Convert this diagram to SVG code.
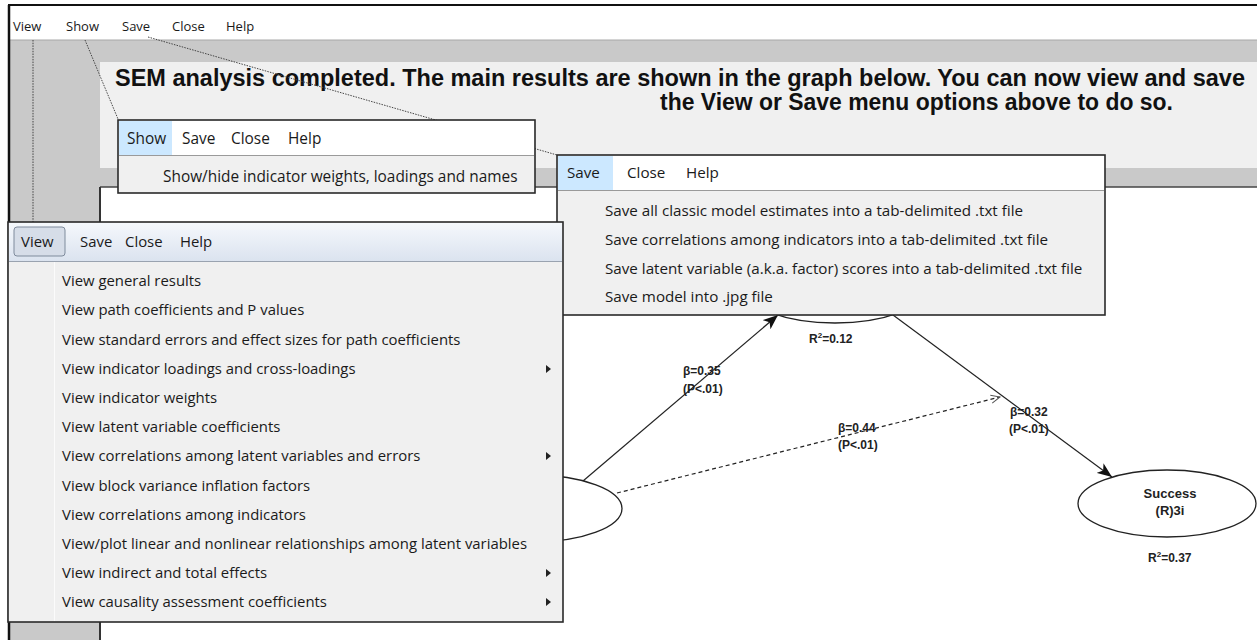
<svg xmlns="http://www.w3.org/2000/svg" width="1257" height="640" viewBox="0 0 1257 640">
<defs>
<style>
.top{font-family:"Open Sans","Noto Sans",sans-serif;font-size:13px;fill:#1a1a1a}
.menu{font-family:"Open Sans","Noto Sans",sans-serif;font-size:14.9px;fill:#1a1a1a}
.svmenu{font-family:"Open Sans","Noto Sans",sans-serif;font-size:15.2px;fill:#1a1a1a}
.smenu{font-family:"Open Sans","Noto Sans",sans-serif;font-size:15.4px;fill:#1a1a1a}
.title{font-family:"Liberation Sans",Arial,sans-serif;font-weight:bold;font-size:23px;fill:#111}
.lbl{font-family:"Liberation Sans",Arial,sans-serif;font-weight:bold;font-size:12px;fill:#222}
.nlbl{font-family:"Liberation Sans",Arial,sans-serif;font-weight:bold;font-size:13px;fill:#222}
.lead{stroke:#444;stroke-width:1;stroke-dasharray:1.5 1.2;fill:none}
.edge{stroke:#222;stroke-width:1.2;fill:none}
.dash{stroke:#222;stroke-width:1.2;fill:none;stroke-dasharray:4 3}
.node{fill:#fff;stroke:#222;stroke-width:1.3}
.box{fill:#f0f0f0;stroke:#2a2a2a;stroke-width:1.6}
.hl{fill:#cce8ff}
.sub{fill:#222}
</style>
<marker id="ah" markerWidth="16" markerHeight="12" refX="15" refY="6" orient="auto" markerUnits="userSpaceOnUse"><path d="M0,0 L15,6 L0,12 L4,6 z" fill="#111"/></marker>
<marker id="oh" markerWidth="12" markerHeight="10" refX="10" refY="5" orient="auto" markerUnits="userSpaceOnUse"><path d="M1,1 L10,5 L1,9" fill="none" stroke="#555" stroke-width="1"/></marker>
<linearGradient id="vh" x1="0" y1="0" x2="0" y2="1"><stop offset="0" stop-color="#f5f8fc"/><stop offset="1" stop-color="#dbe3ef"/></linearGradient>
</defs>

<rect width="1257" height="640" fill="#fff"/>
<!-- window background -->
<rect x="10" y="40" width="1247" height="600" fill="#c9c9c9"/>
<rect x="100" y="62" width="1157" height="106" fill="#f0f0f0"/>
<rect x="100" y="187" width="1157" height="453" fill="#fff"/>
<line x1="100" y1="187" x2="1257" y2="187" stroke="#444" stroke-width="1.5"/>
<line x1="100" y1="187" x2="100" y2="640" stroke="#333" stroke-width="2"/>

<!-- title -->
<text class="title" x="115" y="86" textLength="1130" lengthAdjust="spacingAndGlyphs">SEM analysis completed. The main results are shown in the graph below. You can now view and save</text>
<text class="title" x="660" y="110" textLength="513" lengthAdjust="spacingAndGlyphs">the View or Save menu options above to do so.</text>

<!-- connectors -->
<g id="connectors">
<line class="edge" x1="583" y1="481" x2="778" y2="315" marker-end="url(#ah)"/>
<line class="edge" x1="893" y1="315" x2="1112" y2="477" marker-end="url(#ah)"/>
<line class="dash" x1="617" y1="493" x2="1000" y2="397" marker-end="url(#oh)"/>
</g>

<!-- nodes -->
<g id="node-left"><ellipse class="node" cx="533" cy="508.5" rx="89" ry="33.5"/></g>
<g id="node-top"><ellipse class="node" cx="835" cy="289.5" rx="89" ry="33.5"/>
<text class="lbl" x="809" y="343" font-size="12.5">R<tspan dy="-5" font-size="8">2</tspan><tspan dy="5">=0.12</tspan></text></g>
<g id="node-success"><ellipse class="node" cx="1167" cy="503.5" rx="89" ry="33.5"/>
<text class="nlbl" x="1170" y="498" text-anchor="middle">Success</text>
<text class="nlbl" x="1170" y="515" text-anchor="middle">(R)3i</text>
<text class="lbl" x="1148" y="562" font-size="12.5">R<tspan dy="-5" font-size="8">2</tspan><tspan dy="5">=0.37</tspan></text></g>

<g id="edge-labels">
<text class="lbl" x="683" y="375">β=0.35</text>
<text class="lbl" x="683" y="393">(P&lt;.01)</text>
<text class="lbl" x="838" y="432">β=0.44</text>
<text class="lbl" x="838" y="449">(P&lt;.01)</text>
<text class="lbl" x="1010" y="416">β=0.32</text>
<text class="lbl" x="1009" y="433">(P&lt;.01)</text>
</g>

<!-- top menu bar -->
<g id="menubar">
<rect x="9" y="6" width="1248" height="34" fill="#fff"/>
<line x1="10" y1="40" x2="1257" y2="40" stroke="#a8a8a8" stroke-width="1"/>
<line x1="8" y1="5" x2="1257" y2="5" stroke="#111" stroke-width="2"/>
<line x1="9" y1="5" x2="9" y2="640" stroke="#111" stroke-width="2.5"/>
<text class="top" x="13" y="31">View</text>
<text class="top" x="66" y="31">Show</text>
<text class="top" x="122" y="31">Save</text>
<text class="top" x="172" y="31">Close</text>
<text class="top" x="226" y="31">Help</text>
</g>

<!-- leader lines -->
<g id="leaders">
<line class="lead" x1="33" y1="40" x2="33" y2="222"/>
<line class="lead" x1="85" y1="40" x2="118" y2="119"/>
<line class="lead" x1="148" y1="37" x2="557" y2="155"/>
</g>

<!-- Show menu -->
<g id="show-menu">
<rect class="box" x="118" y="120" width="417" height="73"/>
<rect x="119" y="121" width="415" height="34" fill="#fff"/>
<rect class="hl" x="119" y="121" width="53" height="34"/>
<line x1="119" y1="155.5" x2="534" y2="155.5" stroke="#9a9a9a"/>
<text class="smenu" x="127" y="144">Show</text>
<text class="smenu" x="182" y="144">Save</text>
<text class="smenu" x="231" y="144">Close</text>
<text class="smenu" x="288" y="144">Help</text>
<text class="smenu" x="163" y="182">Show/hide indicator weights, loadings and names</text>
</g>

<!-- Save menu -->
<g id="save-menu">
<rect class="box" x="557" y="155" width="548" height="160"/>
<rect x="558" y="156" width="546" height="34" fill="#fff"/>
<rect class="hl" x="558" y="156" width="55" height="34"/>
<line x1="558" y1="190.5" x2="1104" y2="190.5" stroke="#9a9a9a"/>
<text class="svmenu" x="567" y="178">Save</text>
<text class="svmenu" x="627" y="178">Close</text>
<text class="svmenu" x="686" y="178">Help</text>
<text class="svmenu" x="605" y="216">Save all classic model estimates into a tab-delimited .txt file</text>
<text class="svmenu" x="605" y="245">Save correlations among indicators into a tab-delimited .txt file</text>
<text class="svmenu" x="605" y="274">Save latent variable (a.k.a. factor) scores into a tab-delimited .txt file</text>
<text class="svmenu" x="605" y="302">Save model into .jpg file</text>
</g>

<!-- View menu -->
<g id="view-menu">
<rect class="box" x="8" y="222" width="555" height="400" stroke-width="2"/>
<rect x="9" y="223" width="553" height="38" fill="url(#vh)"/>
<line x1="9" y1="261.5" x2="562" y2="261.5" stroke="#9aa3b0"/>
<line x1="54.5" y1="262" x2="54.5" y2="621" stroke="#fbfbfb"/>
<rect x="14" y="227" width="51" height="29" rx="3" fill="#d6dde8" stroke="#7f8b9c"/>
<text class="menu" x="21" y="247">View</text>
<text class="menu" x="80" y="247">Save</text>
<text class="menu" x="125" y="247">Close</text>
<text class="menu" x="180" y="247">Help</text>
<text class="menu" x="62" y="286">View general results</text>
<text class="menu" x="62" y="315">View path coefficients and P values</text>
<text class="menu" x="62" y="345">View standard errors and effect sizes for path coefficients</text>
<text class="menu" x="62" y="374">View indicator loadings and cross-loadings</text>
<text class="menu" x="62" y="403">View indicator weights</text>
<text class="menu" x="62" y="432">View latent variable coefficients</text>
<text class="menu" x="62" y="461">View correlations among latent variables and errors</text>
<text class="menu" x="62" y="491">View block variance inflation factors</text>
<text class="menu" x="62" y="520">View correlations among indicators</text>
<text class="menu" x="62" y="549">View/plot linear and nonlinear relationships among latent variables</text>
<text class="menu" x="62" y="578">View indirect and total effects</text>
<text class="menu" x="62" y="607">View causality assessment coefficients</text>
<path class="sub" d="M546,365 l5,4 l-5,4 z"/>
<path class="sub" d="M546,452 l5,4 l-5,4 z"/>
<path class="sub" d="M546,569 l5,4 l-5,4 z"/>
<path class="sub" d="M546,598 l5,4 l-5,4 z"/>
</g>
</svg>
